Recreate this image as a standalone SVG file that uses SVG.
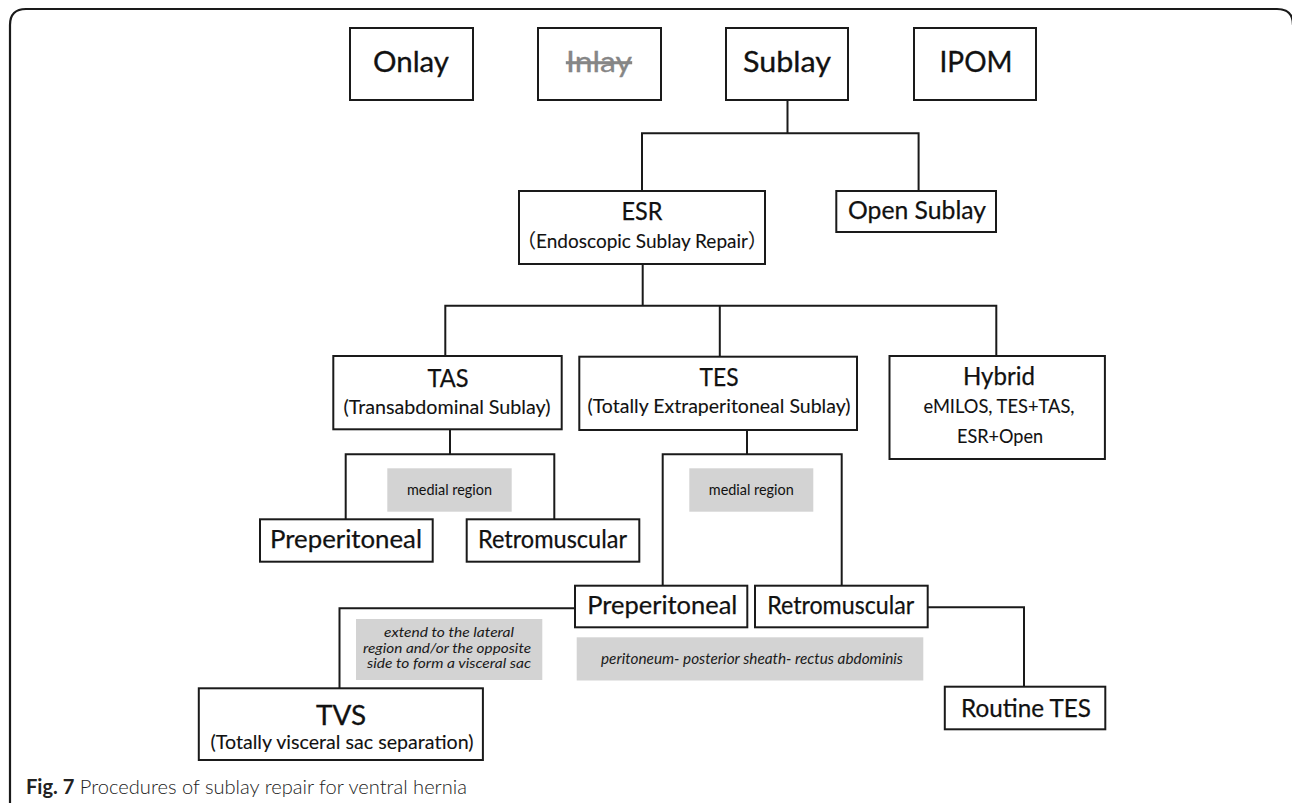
<svg xmlns="http://www.w3.org/2000/svg" width="1292" height="803" viewBox="0 0 1292 803">
<style>
.frame{fill:none;stroke:#1a1a1a;stroke-width:2.2}
.box{fill:#fff;stroke:#1a1a1a;stroke-width:2}
.gray{fill:#d3d3d3}
.conn{fill:none;stroke:#1a1a1a;stroke-width:2}
text{font-family:Lato,"Liberation Sans","Noto Sans CJK SC",sans-serif;fill:#111;text-anchor:middle}
.big{font-size:28px;stroke:#111;stroke-width:0.3}
.mid{font-size:25.5px;stroke:#111;stroke-width:0.25}
.sub{font-size:19.5px;stroke:#111;stroke-width:0.1}
.note{font-size:15px}
.it{font-size:13.5px;font-style:italic;fill:#1a1a1a}
.cap{font-size:20.5px;text-anchor:start;fill:#222}
</style>
<path class="frame" d="M10,804 V25 Q10,9 26,9 H1277 Q1293,9 1293,25"/>

<g id="connectors">
<path class="conn" d="M787.5,100 V133.3 M642,133.3 H918.6 M642,132.3 V191 M918.6,132.3 V191"/>
<path class="conn" d="M642.7,264 V305.7 M445.3,305.7 H996.3 M445.3,304.7 V356 M719.8,305.7 V357 M996.3,304.7 V356"/>
<path class="conn" d="M450,429 V454.3 M345.7,454.3 H554.3 M345.7,453.3 V519.3 M554.3,453.3 V519.3"/>
<path class="conn" d="M747,430 V454.3 M662.7,454.3 H841.7 M662.7,453.3 V585.7 M841.7,453.3 V585.7"/>
<path class="conn" d="M575,608.3 H339.5 V688.3"/>
<path class="conn" d="M927.7,607.3 H1024 V686.7"/>
</g>

<g id="onlay"><rect class="box" x="350" y="28" width="123" height="72"/><text class="big" x="411" y="72" textLength="76" lengthAdjust="spacingAndGlyphs">Onlay</text></g>
<g id="inlay"><rect class="box" x="538" y="28" width="123" height="72"/><text class="big" x="599" y="72" textLength="66" lengthAdjust="spacingAndGlyphs" style="fill:#868686;stroke:#868686;text-decoration:line-through">Inlay</text></g>
<g id="sublay"><rect class="box" x="726" y="28" width="122" height="72"/><text class="big" x="787" y="72" textLength="88" lengthAdjust="spacingAndGlyphs">Sublay</text></g>
<g id="ipom"><rect class="box" x="914" y="28" width="122" height="72"/><text class="big" x="976" y="72" textLength="73" lengthAdjust="spacingAndGlyphs">IPOM</text></g>

<g id="esr"><rect class="box" x="519" y="191" width="246" height="73"/><text class="mid" x="642" y="220" textLength="41" lengthAdjust="spacingAndGlyphs">ESR</text><text class="sub" x="642" y="248" textLength="250" lengthAdjust="spacingAndGlyphs">（Endoscopic Sublay Repair）</text></g>
<g id="open-sublay"><rect class="box" x="836.3" y="191" width="159.7" height="41"/><text class="mid" x="917" y="219" textLength="138" lengthAdjust="spacingAndGlyphs">Open Sublay</text></g>

<g id="tas"><rect class="box" x="333.3" y="356" width="228.4" height="73.3"/><text class="mid" x="448" y="386.7" textLength="41" lengthAdjust="spacingAndGlyphs">TAS</text><text class="sub" x="447" y="414.3" textLength="207" lengthAdjust="spacingAndGlyphs">(Transabdominal Sublay)</text></g>
<g id="tes"><rect class="box" x="579.3" y="356.7" width="277.7" height="73.3"/><text class="mid" x="719" y="385.5" textLength="39" lengthAdjust="spacingAndGlyphs">TES</text><text class="sub" x="719" y="413" textLength="263" lengthAdjust="spacingAndGlyphs">(Totally Extraperitoneal Sublay)</text></g>
<g id="hybrid"><rect class="box" x="889.5" y="356" width="215.4" height="103"/><text class="mid" x="999" y="385" textLength="72" lengthAdjust="spacingAndGlyphs">Hybrid</text><text class="sub" x="999" y="413.3" textLength="151" lengthAdjust="spacingAndGlyphs">eMILOS, TES+TAS,</text><text class="sub" x="1000" y="443.3" textLength="86" lengthAdjust="spacingAndGlyphs">ESR+Open</text></g>

<g id="medial-1"><rect class="gray" x="387.3" y="468.3" width="124.4" height="43.4"/><text class="note" x="449.5" y="495" textLength="85" lengthAdjust="spacingAndGlyphs">medial region</text></g>
<g id="medial-2"><rect class="gray" x="689.3" y="468.3" width="124" height="43.4"/><text class="note" x="751.3" y="495" textLength="85" lengthAdjust="spacingAndGlyphs">medial region</text></g>

<g id="tas-preperitoneal"><rect class="box" x="260" y="519.3" width="172.7" height="42.4"/><text class="mid" x="346" y="548.3" textLength="152" lengthAdjust="spacingAndGlyphs">Preperitoneal</text></g>
<g id="tas-retromuscular"><rect class="box" x="466.7" y="519.3" width="172.6" height="42.4"/><text class="mid" x="552.5" y="548.3" textLength="149" lengthAdjust="spacingAndGlyphs">Retromuscular</text></g>

<g id="tes-preperitoneal"><rect class="box" x="575" y="585.7" width="172.3" height="41.6"/><text class="mid" x="662.3" y="614" textLength="150" lengthAdjust="spacingAndGlyphs">Preperitoneal</text></g>
<g id="tes-retromuscular"><rect class="box" x="755" y="585.7" width="172.7" height="41.6"/><text class="mid" x="840.7" y="614" textLength="147" lengthAdjust="spacingAndGlyphs">Retromuscular</text></g>

<g id="note-extend"><rect class="gray" x="356" y="619" width="186.3" height="61"/><text class="it" x="449" y="637.3" textLength="130" lengthAdjust="spacingAndGlyphs">extend to the lateral</text><text class="it" x="447" y="652.8" textLength="168" lengthAdjust="spacingAndGlyphs">region and/or the opposite</text><text class="it" x="449" y="668.3" textLength="164" lengthAdjust="spacingAndGlyphs">side to form a visceral sac</text></g>
<g id="note-layers"><rect class="gray" x="576.7" y="637.3" width="346.6" height="43.2"/><text class="it" x="752" y="664" textLength="302" lengthAdjust="spacingAndGlyphs" style="font-size:14.5px">peritoneum- posterior sheath- rectus abdominis</text></g>

<g id="routine-tes"><rect class="box" x="944.8" y="686.7" width="160.5" height="42.6"/><text class="mid" x="1026" y="717.3" textLength="130" lengthAdjust="spacingAndGlyphs">Routine TES</text></g>
<g id="tvs"><rect class="box" x="198.8" y="688.3" width="284.1" height="71.7"/><text class="big" x="341" y="724.5" textLength="50" lengthAdjust="spacingAndGlyphs" style="font-size:27px">TVS</text><text class="sub" x="342" y="749" textLength="263" lengthAdjust="spacingAndGlyphs" style="font-size:19px">(Totally visceral sac separation)</text></g>

<text class="cap" x="26" y="794" textLength="441" lengthAdjust="spacingAndGlyphs"><tspan font-weight="700">Fig. 7</tspan><tspan font-weight="300"> Procedures of sublay repair for ventral hernia</tspan></text>
</svg>
